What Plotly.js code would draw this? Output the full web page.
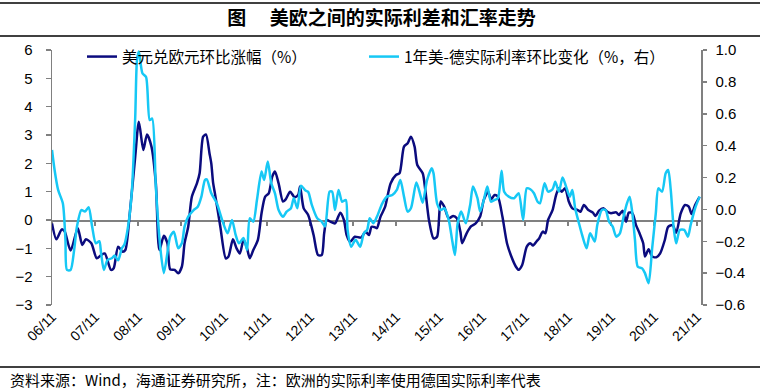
<!DOCTYPE html>
<html><head><meta charset="utf-8">
<script src="https://cdn.plot.ly/plotly-3.0.1.min.js"></script>
<style>html,body{margin:0;padding:0;background:#fff}#chart{width:763px;height:391px}</style>
</head><body><div id="chart"></div>
<script>
const usdEurDates = ['2006-11-01','2006-12-08','2007-01-23','2007-02-16','2007-04-08','2007-06-08','2007-07-16','2007-08-16','2007-10-01','2007-11-16','2007-12-23','2008-01-23','2008-03-16','2008-04-08','2008-05-16','2008-06-23','2008-07-16','2008-08-23','2008-10-08','2008-11-08','2008-12-16','2009-01-16','2009-02-23','2009-04-01','2009-05-01','2009-06-08','2009-07-08','2009-08-01','2009-09-08','2009-10-08','2009-11-08','2009-12-01','2010-01-01','2010-02-01','2010-03-16','2010-04-08','2010-05-08','2010-06-01','2010-07-01','2010-07-16','2010-08-01','2010-08-16','2010-10-01','2010-11-16','2010-12-08','2011-01-16','2011-02-16','2011-03-16','2011-04-16','2011-05-16','2011-06-08','2011-07-08','2011-08-16','2011-09-16','2011-10-16','2011-11-16','2011-12-16','2012-01-08','2012-02-08','2012-03-16','2012-04-08','2012-05-16','2012-06-23','2012-07-23','2012-08-08','2012-09-08','2012-10-16','2012-12-01','2013-01-08','2013-02-08','2013-03-01','2013-03-23','2013-04-23','2013-06-01','2013-07-16','2013-08-16','2013-09-08','2013-10-08','2013-11-16','2014-01-08','2014-02-16','2014-03-16','2014-04-08','2014-05-08','2014-05-23','2014-06-23','2014-08-01','2014-09-16','2014-11-01','2014-12-01','2015-01-08','2015-02-08','2015-03-08','2015-04-08','2015-05-01','2015-06-16','2015-07-08','2015-08-08','2015-09-16','2015-10-16','2015-11-16','2015-12-16','2016-01-23','2016-03-01','2016-04-01','2016-05-01','2016-05-16','2016-06-23','2016-08-01','2016-09-08','2016-10-16','2016-11-16','2016-12-23','2017-01-16','2017-02-16','2017-03-16','2017-04-23','2017-06-01','2017-07-08','2017-08-16','2017-09-08','2017-10-08','2017-11-16','2017-12-16','2018-01-08','2018-02-08','2018-03-01','2018-04-01','2018-04-23','2018-05-16','2018-06-23','2018-07-23','2018-08-16','2018-09-08','2018-10-08','2018-11-08','2018-12-08','2019-01-23','2019-02-16','2019-03-16','2019-04-23','2019-06-01','2019-06-23','2019-07-23','2019-09-01','2019-10-01','2019-11-01','2019-12-16','2020-01-08','2020-02-08','2020-03-08','2020-04-01','2020-05-01','2020-06-01','2020-07-01','2020-08-01','2020-08-16','2020-09-16','2020-10-16','2020-11-23','2020-12-23','2021-02-01','2021-03-01','2021-04-08','2021-05-08','2021-06-16','2021-07-23','2021-08-23','2021-09-16','2021-10-16','2021-11-23'];
const usdEurValues = [-0.12,-0.68,-0.33,-0.4,-1.08,-0.29,-0.88,-0.68,-0.82,-1.35,-1.24,-1.18,-1.76,-1.7,-0.94,-1.12,-1.06,0.24,2.24,3.47,2.47,3.02,2.59,1.29,-1.06,-0.56,-0.82,-1.74,-1.76,-1.88,-1.65,-0.82,-0.24,0.82,1.29,1.65,2.94,3.02,2.35,2.0,1.3,0.94,-0.24,-1.35,-1.3,-0.68,-1.0,-1.18,-0.7,-1.0,-1.35,-1.06,-0.7,0.24,0.82,0.94,1.53,1.71,1.29,0.65,0.73,1.0,0.8,0.88,1.18,0.41,0.18,-0.53,-1.24,-1.24,-0.47,0,-0.06,-0.12,0.26,0,-0.53,-0.77,-0.59,-0.62,-0.41,-0.53,-0.24,-0.26,-0.29,0.12,0.47,1.29,1.59,1.65,2.59,2.71,2.94,2.59,1.94,1.65,1.06,0,-0.65,-0.59,0.65,0.47,0.06,0.14,0.06,-0.41,-0.82,-0.47,-0.22,-0.12,0.12,0.71,1.0,0.73,0.88,0.82,0.12,-0.82,-1.29,-1.65,-1.76,-1.59,-0.94,-0.82,-0.9,-0.75,-0.65,-0.41,-0.47,0,0.35,0.88,1.12,1.0,1.12,0.65,0.41,0.35,0.29,0.53,0.35,0.26,0.14,0.33,0.41,0.29,0.24,0.27,0.18,0.33,-0.06,0.26,0.24,-0.18,-0.47,-0.82,-1.29,-1.03,-1.29,-1.31,-1.18,-0.7,-0.24,-0.18,-0.45,0.24,0.53,0.47,0.21,0.53,0.82];

const spreadDates = ['2006-11-01','2006-11-23','2006-12-23','2007-02-01','2007-02-23','2007-03-08','2007-04-08','2007-05-08','2007-06-01','2007-07-08','2007-08-08','2007-09-08','2007-10-08','2007-11-08','2007-12-08','2007-12-23','2008-01-16','2008-02-16','2008-03-23','2008-04-16','2008-05-16','2008-06-16','2008-07-08','2008-08-08','2008-09-08','2008-10-08','2008-10-23','2008-11-08','2008-12-08','2009-01-08','2009-02-08','2009-03-01','2009-04-01','2009-05-08','2009-06-08','2009-07-08','2009-08-01','2009-09-01','2009-10-08','2009-11-08','2009-12-01','2010-01-01','2010-02-16','2010-03-23','2010-04-23','2010-05-23','2010-06-08','2010-07-16','2010-09-01','2010-10-16','2010-12-01','2011-01-08','2011-02-08','2011-03-08','2011-04-16','2011-05-16','2011-06-08','2011-07-08','2011-08-08','2011-09-16','2011-10-08','2011-11-08','2011-12-08','2012-01-08','2012-02-08','2012-03-16','2012-04-16','2012-05-23','2012-06-16','2012-07-16','2012-08-16','2012-09-23','2012-10-16','2012-11-16','2013-01-01','2013-02-08','2013-03-08','2013-04-16','2013-05-08','2013-06-01','2013-07-01','2013-08-01','2013-09-01','2013-09-16','2013-10-16','2013-11-23','2014-01-01','2014-02-01','2014-03-01','2014-03-23','2014-04-23','2014-05-23','2014-07-08','2014-08-16','2014-10-01','2014-11-08','2014-12-08','2015-01-08','2015-02-08','2015-03-08','2015-04-23','2015-05-23','2015-06-16','2015-07-23','2015-09-01','2015-09-16','2015-10-16','2015-11-16','2015-12-16','2016-01-23','2016-02-23','2016-03-16','2016-04-08','2016-05-08','2016-06-16','2016-07-23','2016-08-16','2016-09-23','2016-10-16','2016-11-16','2016-12-16','2017-01-16','2017-02-16','2017-03-16','2017-04-16','2017-05-08','2017-06-16','2017-08-01','2017-09-08','2017-10-16','2017-11-16','2017-12-16','2018-01-16','2018-02-16','2018-03-08','2018-04-16','2018-05-16','2018-06-23','2018-07-16','2018-08-16','2018-09-16','2018-10-16','2018-11-16','2018-12-08','2019-01-01','2019-02-01','2019-03-01','2019-04-08','2019-05-08','2019-06-16','2019-07-08','2019-08-16','2019-09-16','2019-10-16','2019-11-16','2019-12-16','2020-01-16','2020-02-16','2020-03-16','2020-04-08','2020-05-01','2020-05-23','2020-06-16','2020-07-23','2020-08-16','2020-09-16','2020-10-16','2020-11-16','2020-12-08','2021-01-08','2021-02-08','2021-03-01','2021-03-23','2021-04-16','2021-05-08','2021-06-08','2021-07-16','2021-08-16','2021-09-08','2021-10-16','2021-11-23'];
const spreadValues = [0.373,0.247,0.122,0.038,-0.19,-0.38,-0.38,-0.255,-0.108,-0.004,-0.014,0.013,-0.108,-0.213,-0.2,-0.275,-0.38,-0.317,-0.307,-0.29,-0.32,-0.244,-0.22,-0.108,0.101,0.58,0.937,0.99,0.854,0.83,0.56,0.57,0.142,-0.234,-0.40,-0.275,-0.171,-0.14,-0.244,-0.213,-0.108,-0.046,-0.004,0.017,0.08,0.184,0.188,0.101,0.038,-0.066,-0.15,-0.066,-0.16,-0.213,-0.18,-0.255,-0.056,-0.077,0.059,0.237,0.184,0.3,0.163,0.101,-0.004,-0.046,-0.014,0.007,0.07,0.007,0.149,0.118,0.11,0.028,-0.056,-0.077,-0.108,0.111,0.111,-0.004,0.122,0.048,0.059,-0.129,-0.234,-0.19,-0.234,-0.15,-0.129,-0.056,-0.087,-0.046,0.038,0.08,0.09,0.122,0.184,0.08,-0.014,0.007,0.168,0.101,0.042,0.184,0.258,0.226,0.038,-0.004,0.007,-0.066,-0.202,-0.286,-0.087,-0.014,-0.087,0.028,0.143,0.07,-0.014,0.059,0.143,0.048,0.059,0.07,0.243,0.111,0.08,0.07,0.101,-0.066,0.132,0.126,0.101,0.048,0.038,0.164,0.111,0.126,0.174,0.111,0.2,0.143,0.08,0.122,0.007,-0.083,-0.16,-0.244,-0.15,-0.202,-0.098,-0.004,-0.004,-0.077,-0.108,-0.171,-0.15,-0.046,0.038,0.08,-0.025,-0.19,-0.36,-0.37,-0.40,-0.464,-0.244,-0.025,0.132,0.111,0.226,0.247,0.122,-0.108,-0.213,-0.129,-0.129,-0.171,-0.098,0.007,0.08];

const seriesNames = ['美元兑欧元环比涨幅（%）', '1年美-德实际利率环比变化（%，右）'];
const titleText = '图　 美欧之间的实际利差和汇率走势';
const sourceText = '资料来源：Wind，海通证券研究所，注：欧洲的实际利率使用德国实际利率代表';
const xRange = ['2006-11-01', '2021-12-05'];

const cjk = '"Noto Sans CJK SC", "Noto Sans", sans-serif';
const num = '"Liberation Sans", Arial, sans-serif';
const gray = '#808080';

const traces = [
  {x: usdEurDates, y: usdEurValues, name: seriesNames[0], type: 'scatter', mode: 'lines',
   line: {color: '#0B0B7E', width: 2.5, shape: 'spline', smoothing: 0.7},
   xaxis: 'x', yaxis: 'y', legend: 'legend'},
  {x: spreadDates, y: spreadValues, name: seriesNames[1], type: 'scatter', mode: 'lines',
   line: {color: '#16C8F5', width: 2.5, shape: 'spline', smoothing: 0.7},
   xaxis: 'x2', yaxis: 'y2', legend: 'legend2'}
];

// paper coordinates: plot area spans x 52..701 px, y 50..305 px
const px2x = p => (p - 52) / 649;
const px2y = p => (305 - p) / 255;

const layout = {
  width: 763, height: 391,
  margin: {l: 52, r: 62, t: 50, b: 86, pad: 0},
  paper_bgcolor: '#fff', plot_bgcolor: 'rgba(0,0,0,0)',
  showlegend: true,
  title: {text: titleText, x: 0.5, xref: 'container', xanchor: 'center',
          y: 1 - 18 / 391, yref: 'container', yanchor: 'middle',
          font: {family: cjk, size: 19, color: '#000', weight: 700}},
  xaxis: {type: 'date', range: xRange, tick0: '2006-11-01', dtick: 'M12', tickformat: '%y/%m',
          tickangle: -45, ticks: '', showline: false, showgrid: false, zeroline: false,
          tickfont: {family: num, size: 14, color: '#000'}, fixedrange: true},
  xaxis2: {type: 'date', range: xRange, tick0: '2006-11-01', dtick: 'M12', overlaying: 'x',
           anchor: 'free', position: 1 / 3, showticklabels: false, ticks: 'outside', ticklen: 4,
           tickcolor: gray, tickwidth: 1.5, showline: true, linecolor: gray, linewidth: 1.5,
           showgrid: false, zeroline: false, layer: 'below traces', fixedrange: true},
  yaxis: {range: [-3, 6], dtick: 1, tick0: 0, ticks: 'outside', ticklen: 5, tickcolor: gray, tickwidth: 1.5,
          showline: true, linecolor: gray, linewidth: 1.5, showgrid: false, zeroline: false,
          ticklabelstandoff: 10, tickfont: {family: num, size: 15, color: '#000'}, fixedrange: true},
  yaxis2: {range: [-0.6, 1.0], dtick: 0.2, tick0: 0, tickformat: '.1f', overlaying: 'y', side: 'right',
           anchor: 'x2', ticks: 'outside', ticklen: 4, tickcolor: gray, tickwidth: 1.5,
           showline: true, linecolor: gray, linewidth: 1.5, showgrid: false, zeroline: false,
           ticklabelstandoff: 6, tickfont: {family: num, size: 15, color: '#000'}, fixedrange: true},
  legend: {x: px2x(82), y: px2y(57), xanchor: 'left', yanchor: 'middle', orientation: 'h',
           bgcolor: 'rgba(0,0,0,0)', font: {family: cjk, size: 15.5, color: '#000'}},
  legend2: {x: px2x(364), y: px2y(57), xanchor: 'left', yanchor: 'middle', orientation: 'h',
            bgcolor: 'rgba(0,0,0,0)', font: {family: cjk, size: 15.5, color: '#000'}},
  shapes: [
    {type: 'line', xref: 'paper', yref: 'paper', x0: px2x(0), x1: px2x(760), y0: px2y(3), y1: px2y(3), line: {color: '#000', width: 1.5}},
    {type: 'line', xref: 'paper', yref: 'paper', x0: px2x(0), x1: px2x(760), y0: px2y(36), y1: px2y(36), line: {color: '#000', width: 1.5}},
    {type: 'line', xref: 'paper', yref: 'paper', x0: px2x(0), x1: px2x(760), y0: px2y(367), y1: px2y(367), line: {color: '#000', width: 1.5}}
  ],
  annotations: [
    {text: sourceText, xref: 'paper', yref: 'paper', x: px2x(8), y: px2y(379), xanchor: 'left', yanchor: 'middle',
     showarrow: false, font: {family: cjk, size: 15, color: '#000'}}
  ]
};

Plotly.newPlot('chart', traces, layout, {staticPlot: true, displayModeBar: false});
</script>
</body></html>
